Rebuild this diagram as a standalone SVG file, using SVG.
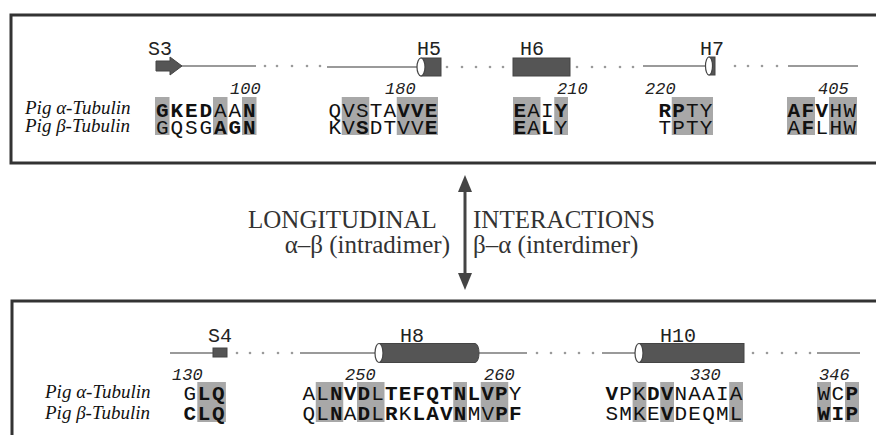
<svg xmlns="http://www.w3.org/2000/svg" width="876" height="435" viewBox="0 0 876 435">
<style>
.panel{fill:none;stroke:#333;stroke-width:3}
.loop{stroke:#9a9a9a;stroke-width:2;fill:none}
.dot{fill:#9a9a9a}
.ss{fill:#555;stroke:#444;stroke-width:1}
.face{fill:#fff;stroke:#444;stroke-width:1.2}
.lab{font-family:"Liberation Mono",monospace;font-size:20px;fill:#222}
.num{font-family:"Liberation Mono",monospace;font-size:17px;font-style:italic;fill:#222}
.sp{font-family:"Liberation Serif",serif;font-size:19px;font-style:italic;fill:#111}
.seq{font-family:"Liberation Mono",monospace;font-size:21px;letter-spacing:1.15px;fill:#111}
.b{font-weight:bold}
.hl{fill:#a8a8a8}
.mid{font-family:"Liberation Serif",serif;font-size:25px;fill:#333}
.arr{fill:#444}
</style>

<rect class="panel" x="11" y="15" width="880" height="148"/>
<rect class="panel" x="12" y="301" width="880" height="150"/>

<g id="top-structure">
  <line class="loop" x1="180" y1="66" x2="256" y2="66"/>
  <g class="dot"><circle cx="265" cy="66" r="1.3"/><circle cx="277" cy="66" r="1.3"/><circle cx="292" cy="66" r="1.3"/><circle cx="307" cy="66" r="1.3"/><circle cx="320" cy="66" r="1.3"/></g>
  <line class="loop" x1="327" y1="67" x2="421" y2="67"/>
  <g class="dot"><circle cx="447" cy="67" r="1.3"/><circle cx="462" cy="67" r="1.3"/><circle cx="476" cy="67" r="1.3"/><circle cx="490" cy="67" r="1.3"/><circle cx="503" cy="67" r="1.3"/></g>
  <g class="dot"><circle cx="577" cy="67" r="1.3"/><circle cx="592" cy="67" r="1.3"/><circle cx="605" cy="67" r="1.3"/><circle cx="620" cy="67" r="1.3"/><circle cx="633" cy="67" r="1.3"/></g>
  <line class="loop" x1="643" y1="66" x2="709" y2="66"/>
  <g class="dot"><circle cx="735" cy="66" r="1.3"/><circle cx="748" cy="66" r="1.3"/><circle cx="762" cy="66" r="1.3"/><circle cx="777" cy="66" r="1.3"/></g>
  <line class="loop" x1="788" y1="66" x2="858" y2="66"/>
</g>

<g id="S3">
  <polygon class="ss" points="156,61 170,61 170,57 182,66 170,75 170,71 156,71"/>
  <text class="lab" x="148" y="55">S3</text>
</g>
<g id="H5">
  <rect class="ss" x="421" y="58" width="20" height="18"/>
  <ellipse class="face" cx="421" cy="67" rx="4" ry="9"/>
  <text class="lab" x="417" y="55">H5</text>
</g>
<g id="H6">
  <rect class="ss" x="513" y="58" width="57" height="18"/>
  <text class="lab" x="520" y="55">H6</text>
</g>
<g id="H7">
  <rect class="ss" x="709" y="57" width="6" height="18"/>
  <ellipse class="face" cx="709" cy="66" rx="3.5" ry="9"/>
  <text class="lab" x="700" y="55">H7</text>
</g>

<g id="top-alignment">
  <text class="sp" x="25" y="114">Pig α-Tubulin</text>
  <text class="sp" x="25" y="132">Pig β-Tubulin</text>
  <g class="hl">
    <rect x="155" y="97" width="14.5" height="38"/>
    <rect x="213" y="97" width="14.5" height="38"/>
    <rect x="242" y="97" width="14.5" height="38"/>
    <rect x="341.75" y="97" width="27.5" height="38"/>
    <rect x="396.75" y="97" width="41.25" height="38"/>
    <rect x="513" y="97" width="27.5" height="38"/>
    <rect x="554.25" y="97" width="13.75" height="38"/>
    <rect x="671.75" y="97" width="41.25" height="38"/>
    <rect x="787" y="97" width="28" height="38"/>
    <rect x="829" y="97" width="28" height="38"/>
  </g>
  <text class="num" x="230" y="94">100</text>
  <text class="num" x="385" y="94">180</text>
  <text class="num" x="557" y="94">210</text>
  <text class="num" x="645" y="94">220</text>
  <text class="num" x="818" y="94">405</text>

  <text class="seq" x="156" y="117" style="letter-spacing:1.9px"><tspan class="b">GKED</tspan>AA<tspan class="b">N</tspan></text>
  <text class="seq" x="156" y="134" style="letter-spacing:1.9px">GQSG<tspan class="b">AGN</tspan></text>
  <text class="seq" x="328.5" y="117">QVSTA<tspan class="b">VVE</tspan></text>
  <text class="seq" x="328.5" y="134">KV<tspan class="b">S</tspan>DTVV<tspan class="b">E</tspan></text>
  <text class="seq" x="513.5" y="117"><tspan class="b">E</tspan>AI<tspan class="b">Y</tspan></text>
  <text class="seq" x="513.5" y="134"><tspan class="b">E</tspan>A<tspan class="b">L</tspan>Y</text>
  <text class="seq" x="658.5" y="117"><tspan class="b">RP</tspan>TY</text>
  <text class="seq" x="658.5" y="134">TPTY</text>
  <text class="seq" x="787.5" y="117" style="letter-spacing:1.4px"><tspan class="b">AFV</tspan>HW</text>
  <text class="seq" x="787.5" y="134" style="letter-spacing:1.4px">A<tspan class="b">F</tspan>LHW</text>
</g>

<g id="connectors">
  <line x1="465" y1="188" x2="465" y2="277" stroke="#444" stroke-width="3"/>
  <polygon class="arr" points="465,175 472,192 458,192"/>
  <polygon class="arr" points="465,290 472,273 458,273"/>
</g>

<g id="interaction-label">
  <text class="mid" x="248" y="228">LONGITUDINAL</text>
  <text class="mid" x="473" y="228">INTERACTIONS</text>
  <text class="mid" x="450" y="253" text-anchor="end">α–β (intradimer)</text>
  <text class="mid" x="473" y="253">β–α (interdimer)</text>
</g>

<g id="bottom-structure">
  <line class="loop" x1="170" y1="353" x2="213" y2="353"/>
  <g class="dot"><circle cx="237" cy="353" r="1.3"/><circle cx="250" cy="353" r="1.3"/><circle cx="263" cy="353" r="1.3"/><circle cx="278" cy="353" r="1.3"/><circle cx="292" cy="353" r="1.3"/></g>
  <line class="loop" x1="300" y1="353" x2="379" y2="353"/>
  <line class="loop" x1="479" y1="353" x2="527" y2="353"/>
  <g class="dot"><circle cx="537" cy="353" r="1.3"/><circle cx="551" cy="353" r="1.3"/><circle cx="565" cy="353" r="1.3"/><circle cx="579" cy="353" r="1.3"/><circle cx="593" cy="353" r="1.3"/></g>
  <line class="loop" x1="602" y1="353" x2="639" y2="353"/>
  <g class="dot"><circle cx="753" cy="353" r="1.3"/><circle cx="767" cy="353" r="1.3"/><circle cx="782" cy="353" r="1.3"/><circle cx="796" cy="353" r="1.3"/><circle cx="810" cy="353" r="1.3"/></g>
  <line class="loop" x1="817" y1="353" x2="860" y2="353"/>
</g>

<g id="S4">
  <rect class="ss" x="213" y="348" width="14" height="9"/>
  <text class="lab" x="208" y="342">S4</text>
</g>
<g id="H8">
  <path class="ss" d="M379,343.5 H475 A4,9.5 0 0 1 475,362.5 H379 Z"/>
  <ellipse class="face" cx="379" cy="353" rx="4" ry="9.5"/>
  <text class="lab" x="400" y="342">H8</text>
</g>
<g id="H10">
  <rect class="ss" x="639" y="343.5" width="105" height="19"/>
  <ellipse class="face" cx="639" cy="353" rx="4" ry="9.5"/>
  <text class="lab" x="660" y="342">H10</text>
</g>

<g id="bottom-alignment">
  <text class="sp" x="45" y="398">Pig α-Tubulin</text>
  <text class="sp" x="45" y="419">Pig β-Tubulin</text>
  <g class="hl">
    <rect x="197.3" y="382" width="28.6" height="40"/>
    <rect x="315.75" y="382" width="27.5" height="40"/>
    <rect x="357" y="382" width="27.5" height="40"/>
    <rect x="453.25" y="382" width="13.75" height="40"/>
    <rect x="480.75" y="382" width="27.5" height="40"/>
    <rect x="632.6" y="382" width="13.8" height="40"/>
    <rect x="660.2" y="382" width="13.8" height="40"/>
    <rect x="729.2" y="382" width="13.8" height="40"/>
    <rect x="817" y="382" width="14" height="40"/>
    <rect x="845" y="382" width="14" height="40"/>
  </g>
  <text class="num" x="172" y="380">130</text>
  <text class="num" x="345" y="380">250</text>
  <text class="num" x="484" y="380">260</text>
  <text class="num" x="690" y="380">330</text>
  <text class="num" x="819" y="380">346</text>

  <text class="seq" x="183.5" y="400" style="letter-spacing:1.7px">G<tspan class="b">LQ</tspan></text>
  <text class="seq" x="183.5" y="420" style="letter-spacing:1.7px"><tspan class="b">CLQ</tspan></text>
  <text class="seq" x="302.5" y="400">AL<tspan class="b">NVD</tspan>L<tspan class="b">TEFQTNLVP</tspan>Y</text>
  <text class="seq" x="302.5" y="420">QL<tspan class="b">N</tspan>A<tspan class="b">D</tspan>L<tspan class="b">R</tspan>K<tspan class="b">LAVN</tspan>MV<tspan class="b">PF</tspan></text>
  <text class="seq" x="605.5" y="400" style="letter-spacing:1.2px"><tspan class="b">V</tspan>PK<tspan class="b">DV</tspan>NAAIA</text>
  <text class="seq" x="605.5" y="420" style="letter-spacing:1.2px">SMKE<tspan class="b">V</tspan>DEQML</text>
  <text class="seq" x="817.5" y="400" style="letter-spacing:1.4px">WC<tspan class="b">P</tspan></text>
  <text class="seq" x="817.5" y="420" style="letter-spacing:1.4px"><tspan class="b">WIP</tspan></text>
</g>
</svg>
